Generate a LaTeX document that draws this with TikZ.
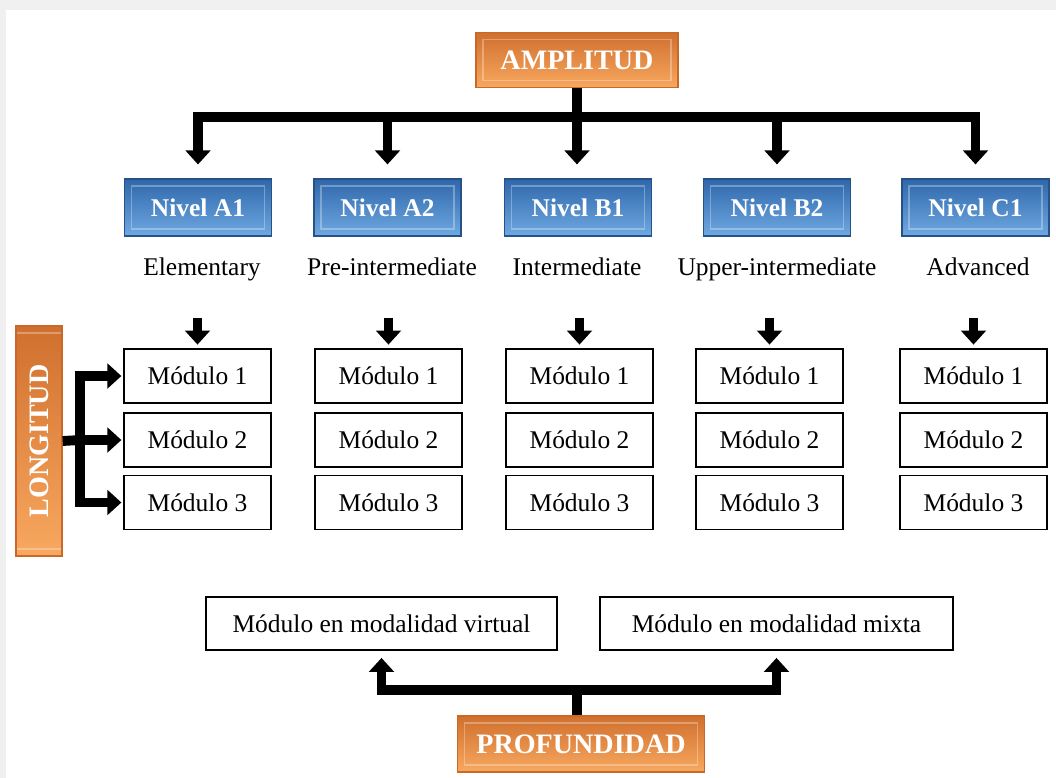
\documentclass[tikz,border=0pt]{standalone}
\usepackage{fontspec}
\setmainfont{Liberation Serif}
\usetikzlibrary{arrows.meta}
\definecolor{naranja}{HTML}{F08A3C}
\definecolor{naranjaosc}{HTML}{C8692A}
\definecolor{naranjacla}{HTML}{F8A860}
\definecolor{azul}{HTML}{4A86C8}
\definecolor{azulosc}{HTML}{2F67AA}
\definecolor{azulcla}{HTML}{6FA9E2}
\tikzset{
  bisel/.style={path picture={\draw[white, opacity=0.3, line width=0.7pt]
    ([shift={(4pt,4pt)}]path picture bounding box.south west) rectangle ([shift={(-4pt,-4pt)}]path picture bounding box.north east);}},
  ejebox/.style={bisel, draw=naranjaosc, line width=0.8pt, top color=naranjaosc!80!naranja, bottom color=naranjacla,
    text=white, font=\fontsize{16}{18}\selectfont\bfseries, inner sep=0pt},
  nivelbox/.style={bisel, draw=azulosc!80!black, line width=0.6pt, top color=azulosc, bottom color=azulcla,
    text=white, font=\fontsize{14.5}{16}\selectfont\bfseries, minimum width=2.94cm, minimum height=1.14cm, inner sep=0pt},
  modbox/.style={draw, line width=1pt, minimum width=2.94cm, minimum height=1.08cm,
    font=\fontsize{14.5}{16}\selectfont, inner sep=0pt},
  desc/.style={font=\fontsize{14.5}{16}\selectfont, inner sep=0pt, text height=10pt, text depth=3pt},
  linea/.style={line width=5.6pt},
  flecha/.style={line width=5.6pt, -{Triangle[length=8pt,width=14pt]}},
}
\begin{document}
\begin{tikzpicture}[x=0.02cm, y=-0.02cm]
\useasboundingbox (0,0) rectangle (1056,778);
\fill[gray!12] (0,0) rectangle (1056,778);
\fill[white] (6,10) rectangle (1056,778);

% ejes
\node[ejebox, minimum width=4.04cm, minimum height=1.1cm](amp) at (577,60){AMPLITUD};
\node[ejebox, rotate=90, minimum width=4.6cm, minimum height=0.92cm](lon) at (39,441){LONGITUD};
\node[ejebox, minimum width=4.94cm, minimum height=1.12cm](prof) at (581,744){PROFUNDIDAD};

% niveles
\node[nivelbox](n1) at (198,207.5){Nivel A1};
\node[nivelbox](n2) at (387.5,207.5){Nivel A2};
\node[nivelbox](n3) at (578,207.5){Nivel B1};
\node[nivelbox](n4) at (777,207.5){Nivel B2};
\node[nivelbox](n5) at (975.5,207.5){Nivel C1};

\node[desc](d1) at (202,269){Elementary};
\node[desc](d2) at (392,269){Pre-intermediate};
\node[desc](d3) at (577,269){Intermediate};
\node[desc](d4) at (777,269){Upper-intermediate};
\node[desc](d5) at (978,269){Advanced};

% modulos
\node[modbox](m11) at (197.5,376){Módulo 1};
\node[modbox](m12) at (197.5,440){Módulo 2};
\node[modbox](m13) at (197.5,502.5){Módulo 3};
\node[modbox](m21) at (388.5,376){Módulo 1};
\node[modbox](m22) at (388.5,440){Módulo 2};
\node[modbox](m23) at (388.5,502.5){Módulo 3};
\node[modbox](m31) at (579.5,376){Módulo 1};
\node[modbox](m32) at (579.5,440){Módulo 2};
\node[modbox](m33) at (579.5,502.5){Módulo 3};
\node[modbox](m41) at (769.5,376){Módulo 1};
\node[modbox](m42) at (769.5,440){Módulo 2};
\node[modbox](m43) at (769.5,502.5){Módulo 3};
\node[modbox](m51) at (973.5,376){Módulo 1};
\node[modbox](m52) at (973.5,440){Módulo 2};
\node[modbox](m53) at (973.5,502.5){Módulo 3};

\node[modbox, minimum width=7.02cm, minimum height=1.06cm](virt) at (381.5,623.5){Módulo en modalidad virtual};
\node[modbox, minimum width=7.06cm, minimum height=1.06cm](mix) at (776.5,623.5){Módulo en modalidad mixta};

% amplitud
\coordinate (ja) at (577,117);
\draw[linea](amp.south)--(ja);
\draw[flecha, shorten >=8pt](ja)-|(n1.north);
\draw[flecha, shorten >=8pt](ja)-|(n2.north);
\draw[flecha, shorten >=8pt](ja)--(ja |- n3.north);
\draw[flecha, shorten >=8pt](ja)-|(n4.north);
\draw[flecha, shorten >=8pt](ja)-|(n5.north);

\draw[flecha, shorten <=21pt, shorten >=2pt](m11.north |- d1.south)--(m11.north);
\draw[flecha, shorten <=21pt, shorten >=2pt](m21.north |- d2.south)--(m21.north);
\draw[flecha, shorten <=21pt, shorten >=2pt](m31.north |- d3.south)--(m31.north);
\draw[flecha, shorten <=21pt, shorten >=2pt](m41.north |- d4.south)--(m41.north);
\draw[flecha, shorten <=21pt, shorten >=2pt](m51.north |- d5.south)--(m51.north);

% longitud
\coordinate (jl) at (80,440);
\draw[linea](lon.south)--(jl);
\draw[flecha, shorten >=1pt](jl)|-(m11.west);
\draw[flecha, shorten >=1pt](jl)--(m12.west);
\draw[flecha, shorten >=1pt](jl)|-(m13.west);

% profundidad
\coordinate (jp) at (577,690);
\draw[linea](prof.north -| jp)--(jp);
\draw[flecha, shorten >=4pt](jp)-|(virt.south);
\draw[flecha, shorten >=4pt](jp)-|(mix.south);
\end{tikzpicture}
\end{document}
